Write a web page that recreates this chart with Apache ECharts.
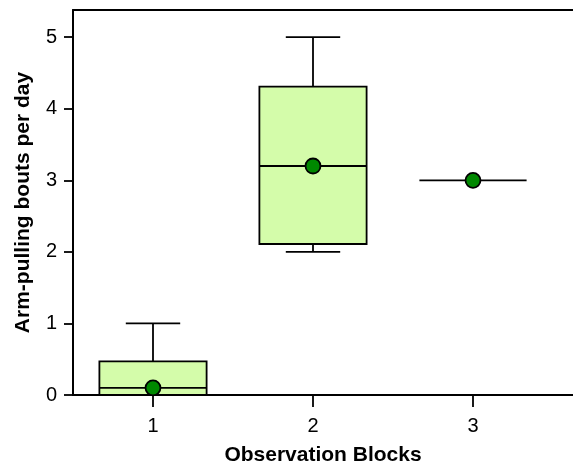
<!DOCTYPE html>
<html>
<head>
<meta charset="utf-8">
<script src="https://cdn.jsdelivr.net/npm/echarts@6/dist/echarts.min.js"></script>
<style>html,body{margin:0;padding:0;background:#fff}#c{width:573px;height:465px}</style>
</head>
<body>
<div id="c"></div>
<script>
// Data
const categories = [1, 2, 3];
const categoryLabels = ['1', '2', '3'];
const whiskerLow = [0, 2.0, 3];
const q1 = [0, 2.11, 3];
const median = [0.1, 3.2, 3];
const q3 = [0.47, 4.31, 3];
const whiskerHigh = [1, 5.0, 3];
const means = [0.1, 3.2, 3.0];
const yTicks = [0, 1, 2, 3, 4, 5];

const FONT = '"Liberation Sans", Arial, sans-serif';
const BOX_W = 0.67; // in category units
const CAP_W = 0.34;

const boxData = categories.map((c, i) => [c, whiskerLow[i], q1[i], median[i], q3[i], whiskerHigh[i]]);
const meanData = categories.map((c, i) => [c, means[i]]);

const chart = echarts.init(document.getElementById('c'), null, {renderer: 'canvas'});
const lineStyle = {stroke: '#000', lineWidth: 1.8};

chart.setOption({
  animation: false,
  grid: {left: 73, right: 0, top: 10, bottom: 70, outerBoundsMode: 'none', containLabel: false},
  xAxis: [{
    type: 'value', min: 0.5, max: 3.625,
    splitLine: {show: false},
    axisLine: {show: true, onZero: false, lineStyle: {color: '#000', width: 2}},
    axisTick: {show: true, length: 12, lineStyle: {color: '#000', width: 1.8}, customValues: categories},
    axisLabel: {fontFamily: FONT, fontSize: 20, color: '#000', margin: 21,
      customValues: categories, formatter: v => categoryLabels[categories.indexOf(v)]},
    name: 'Observation Blocks', nameLocation: 'middle', nameGap: 50,
    nameTextStyle: {fontFamily: FONT, fontSize: 21, fontWeight: 'bold', color: '#000'}
  }, {
    type: 'value', min: 0.5, max: 3.625, position: 'top',
    splitLine: {show: false},
    axisLine: {show: true, onZero: false, lineStyle: {color: '#000', width: 2}},
    axisTick: {show: false}, axisLabel: {show: false}
  }],
  yAxis: {
    type: 'value', min: 0, max: 5.38,
    splitLine: {show: false},
    axisLine: {show: true, onZero: false, lineStyle: {color: '#000', width: 2}},
    axisTick: {show: true, length: 9, lineStyle: {color: '#000', width: 1.8}, customValues: yTicks},
    axisLabel: {fontFamily: FONT, fontSize: 20, color: '#000', margin: 16, customValues: yTicks},
    name: 'Arm-pulling bouts per day', nameLocation: 'middle', nameGap: 39,
    nameTextStyle: {fontFamily: FONT, fontSize: 21, fontWeight: 'bold', color: '#000'}
  },
  series: [{
    type: 'custom',
    data: boxData,
    encode: {x: 0, y: [1, 2, 3, 4, 5]},
    renderItem: function (params, api) {
      const x = api.value(0);
      const half = api.size([BOX_W, 0])[0] / 2;
      const capHalf = api.size([CAP_W, 0])[0] / 2;
      const cx = api.coord([x, 0])[0];
      const yLo = api.coord([x, api.value(1)])[1];
      const yQ1 = api.coord([x, api.value(2)])[1];
      const yMed = api.coord([x, api.value(3)])[1];
      const yQ3 = api.coord([x, api.value(4)])[1];
      const yHi = api.coord([x, api.value(5)])[1];
      const children = [];
      if (api.value(5) > api.value(4)) {
        children.push({type: 'line', shape: {x1: cx, y1: yQ3, x2: cx, y2: yHi}, style: lineStyle});
        children.push({type: 'line', shape: {x1: cx - capHalf, y1: yHi, x2: cx + capHalf, y2: yHi}, style: lineStyle});
      }
      if (api.value(2) > api.value(1)) {
        children.push({type: 'line', shape: {x1: cx, y1: yQ1, x2: cx, y2: yLo}, style: lineStyle});
        children.push({type: 'line', shape: {x1: cx - capHalf, y1: yLo, x2: cx + capHalf, y2: yLo}, style: lineStyle});
      }
      if (api.value(4) > api.value(2)) {
        children.push({type: 'rect', shape: {x: cx - half, y: yQ3, width: 2 * half, height: yQ1 - yQ3},
          style: {fill: '#d4fcaa', stroke: '#000', lineWidth: 1.8}});
      }
      children.push({type: 'line', shape: {x1: cx - half, y1: yMed, x2: cx + half, y2: yMed}, style: lineStyle});
      return {type: 'group', children: children};
    },
    z: 2
  }, {
    type: 'scatter',
    data: meanData,
    symbol: 'circle',
    symbolSize: 15,
    itemStyle: {color: '#008800', borderColor: '#000', borderWidth: 1.8, opacity: 1},
    z: 3
  }]
});
</script>
</body>
</html>
